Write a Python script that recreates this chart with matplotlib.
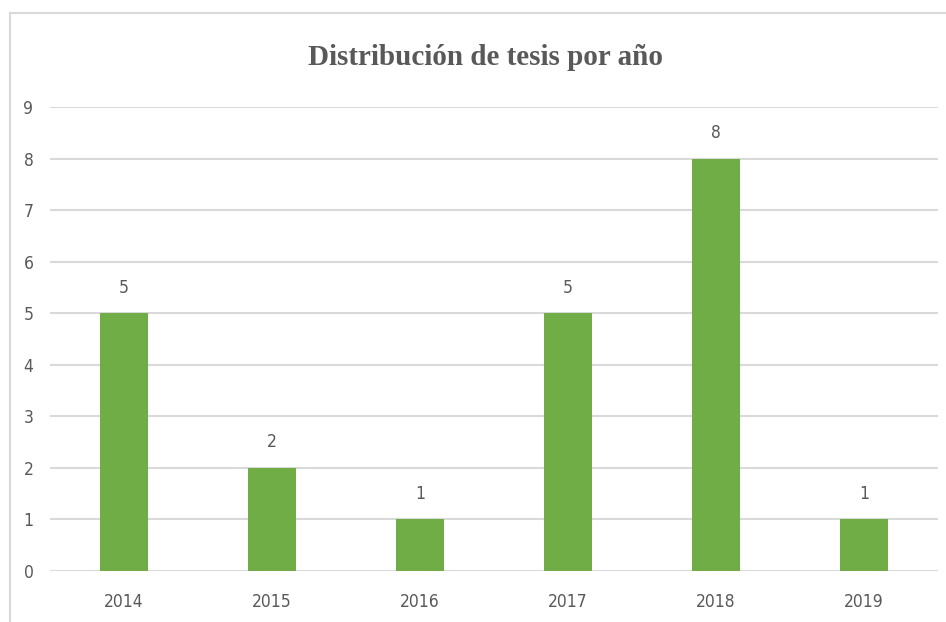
import matplotlib.pyplot as plt
from matplotlib.lines import Line2D

# data
years = ['2014', '2015', '2016', '2017', '2018', '2019']
tesis = [5, 2, 1, 5, 8, 1]
y_ticks = list(range(0, 10))

bar_color = '#70AD47'
text_color = '#595959'
grid_color = '#D9D9D9'

fig = plt.figure(figsize=(9.46, 6.22), dpi=100)
ax = fig.add_axes([0.053, 0.082, 0.9385, 0.746])

x = range(len(years))
bars = ax.bar(x, tesis, width=0.32, color=bar_color, zorder=3)

# data labels
for xi, v in zip(x, tesis):
    ax.annotate(str(v), (xi, v), xytext=(0, 12), textcoords='offset points',
                ha='center', va='bottom', fontsize=12.5, color=text_color,
                fontfamily='DejaVu Sans', fontstretch='condensed')

ax.set_xlim(-0.5, len(years) - 0.5)
ax.set_ylim(0, 9)
ax.set_yticks(y_ticks)
ax.set_xticks(list(x))
ax.set_xticklabels(years)
ax.yaxis.grid(True, color=grid_color, linewidth=1.5, zorder=0)
ax.set_axisbelow(True)
for s in ax.spines.values():
    s.set_visible(False)
ax.tick_params(axis='both', length=0, labelsize=12.5, labelcolor=text_color)
ax.tick_params(axis='x', pad=16)
ax.tick_params(axis='y', pad=12)
for lab in ax.get_xticklabels() + ax.get_yticklabels():
    lab.set_fontstretch('condensed')

fig.text(0.513, 0.907, 'Distribución de tesis por año', ha='center', va='center',
         fontsize=21, fontweight='bold', color=text_color, fontfamily='Liberation Serif')

# chart border (cut by image edge)
fig.add_artist(Line2D([10 / 946, 10 / 946], [0, 1 - 13 / 622], transform=fig.transFigure,
                      color=grid_color, linewidth=1.5))
fig.add_artist(Line2D([10 / 946, 1], [1 - 13 / 622, 1 - 13 / 622], transform=fig.transFigure,
                      color=grid_color, linewidth=1.5))

fig.savefig('out.png', dpi=100)
